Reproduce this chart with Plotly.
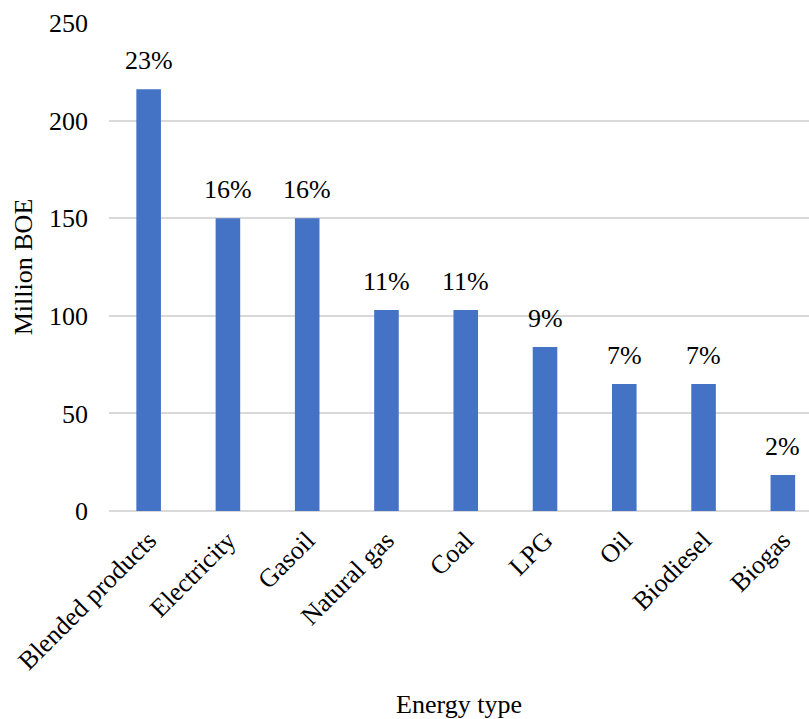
import plotly.graph_objects as go

# Energy consumption by type (million barrels of oil equivalent)
energy_types = ["Blended products", "Electricity", "Gasoil", "Natural gas", "Coal",
                "LPG", "Oil", "Biodiesel", "Biogas"]
million_boe = [216, 150, 150, 103, 103, 84, 65, 65, 18.5]
share_labels = ["23%", "16%", "16%", "11%", "11%", "9%", "7%", "7%", "2%"]
y_ticks = [0, 50, 100, 150, 200, 250]

FONT = "'Liberation Serif', 'Times New Roman', Times, serif"
FONT_SIZE = 26
BAR_COLOR = "#4472C4"
GRID_COLOR = "#d9d9d9"

fig = go.Figure(
    go.Bar(
        x=energy_types,
        y=million_boe,
        marker=dict(color=BAR_COLOR, line=dict(width=0)),
        width=0.31,
    )
)

# Share labels sit a little above each bar
for cat, val, lab in zip(energy_types, million_boe, share_labels):
    fig.add_annotation(
        x=cat, y=val, text=lab, showarrow=False,
        yanchor="bottom", yshift=12,
        font=dict(family=FONT, size=FONT_SIZE, color="#000000"),
    )

fig.update_layout(
    width=809,
    height=719,
    margin=dict(l=109, r=0, t=23, b=208),
    paper_bgcolor="white",
    plot_bgcolor="white",
    font=dict(family=FONT, size=FONT_SIZE, color="#000000"),
    showlegend=False,
)

fig.update_xaxes(
    range=[-0.5, 8.33],
    tickangle=-45,
    tickfont=dict(family=FONT, size=FONT_SIZE),
    showgrid=False,
    showline=False,
    ticks="",
    ticklabelstandoff=8,
    title=dict(text="Energy type", font=dict(family=FONT, size=FONT_SIZE), standoff=22),
)

fig.update_yaxes(
    range=[0, 250],
    tickvals=y_ticks,
    tickfont=dict(family=FONT, size=FONT_SIZE),
    showgrid=True,
    gridcolor=GRID_COLOR,
    gridwidth=1.5,
    zeroline=True,
    zerolinecolor=GRID_COLOR,
    zerolinewidth=1.5,
    showline=False,
    ticks="",
    ticklabelstandoff=20,
    title=dict(text="Million BOE", font=dict(family=FONT, size=FONT_SIZE), standoff=8),
)

fig.write_html("out.html")
